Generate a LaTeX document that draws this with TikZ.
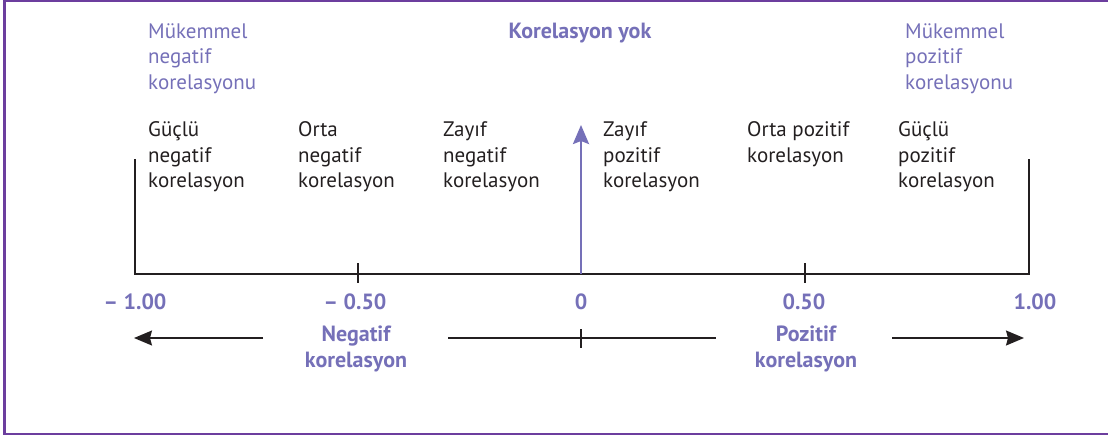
\documentclass[tikz,border=0pt]{standalone}
\usepackage{fontspec}
\setsansfont{PT Sans}
\usetikzlibrary{arrows.meta,positioning}

\begin{document}
\begin{tikzpicture}[x=1pt,y=-1pt,font=\sffamily\fontsize{21}{25.5}\selectfont,
  lbl/.style={anchor=north west,align=left,inner sep=0pt,text=ink},
  ptxt/.style={lbl,text=lavender},
  num/.style={anchor=base,inner sep=0pt,text=lavender,
    font=\sffamily\bfseries\fontsize{22}{26}\selectfont},
  axis/.style={draw=ink,line width=2.6pt},
  tick/.style={draw=ink,line width=1.4pt}]
\definecolor{ink}{RGB}{35,31,32}
\definecolor{lavender}{RGB}{117,112,184}
\definecolor{frame}{RGB}{108,62,158}
\useasboundingbox (0,0) rectangle (1108,437);
% open frame, no right edge
\draw[frame,line width=2.2pt] (1108,1) -- (4.5,1) -- (4.5,434) -- (1108,434);

% headings and category labels
\node[ptxt] (perfneg) at (148,23.5) {Mükemmel\\negatif\\korelasyonu};
\node[num] (nocorr) at (580,38.3) {Korelasyon yok};
\node[ptxt] (perfpos) at (905,23.5) {Mükemmel\\pozitif\\korelasyonu};
\node[lbl] (strongneg) at (148,121.5) {Güçlü\\negatif\\korelasyon};
\node[lbl] (modneg) at (298,121.5) {Orta\\negatif\\korelasyon};
\node[lbl] (weakneg) at (443,121.5) {Zayıf\\negatif\\korelasyon};
\node[lbl] (weakpos) at (603,121.5) {Zayıf\\pozitif\\korelasyon};
\node[lbl] (modpos) at (747,121.5) {Orta pozitif\\korelasyon};
\node[lbl] (strongpos) at (898,121.5) {Güçlü\\pozitif\\korelasyon};

% the scale
\coordinate (ltop) at (135,159);
\coordinate (lend) at (135,274);
\coordinate (rend) at (1029,274);
\coordinate (rtop) at (1029,159);
\coordinate (zero) at (581,274);
\coordinate (zerotip) at (581,125);
\draw[axis] (ltop) -- (lend) -- (rend) -- (rtop);
\draw[tick] (358,263) -- (358,283);
\draw[tick] (805,263) -- (805,283);
\draw[lavender,line width=2.6pt,-{Stealth[length=19pt,width=16pt,inset=3pt]}]
  (zero) -- (zerotip);

\node[num] (m100) at (135,309) {-- 1.00};
\node[num] (m050) at (355,309) {-- 0.50};
\node[num] (z000) at (581,309) {0};
\node[num] (p050) at (804,309) {0.50};
\node[num] (p100) at (1035,309) {1.00};

% direction arrows
\node[num,anchor=north,align=center] (negcorr) at (356,326) {Negatif\\korelasyon};
\node[num,anchor=north,align=center] (poscorr) at (806,326) {Pozitif\\korelasyon};
\coordinate (negstart) at (263,338);
\coordinate (negtip) at (134,338);
\coordinate (midl) at (448,338);
\coordinate (midr) at (716,338);
\coordinate (posstart) at (892,338);
\coordinate (postip) at (1024,338);
\draw[ink,line width=1.4pt,-{Stealth[length=18pt,width=15pt,inset=2pt]}]
  (negstart) -- (negtip);
\draw[ink,line width=1.4pt] (midl) -- (midr);
\draw[tick] (581,329) -- (581,348);
\draw[ink,line width=1.4pt,-{Stealth[length=18pt,width=15pt,inset=2pt]}]
  (posstart) -- (postip);
\end{tikzpicture}
\end{document}
